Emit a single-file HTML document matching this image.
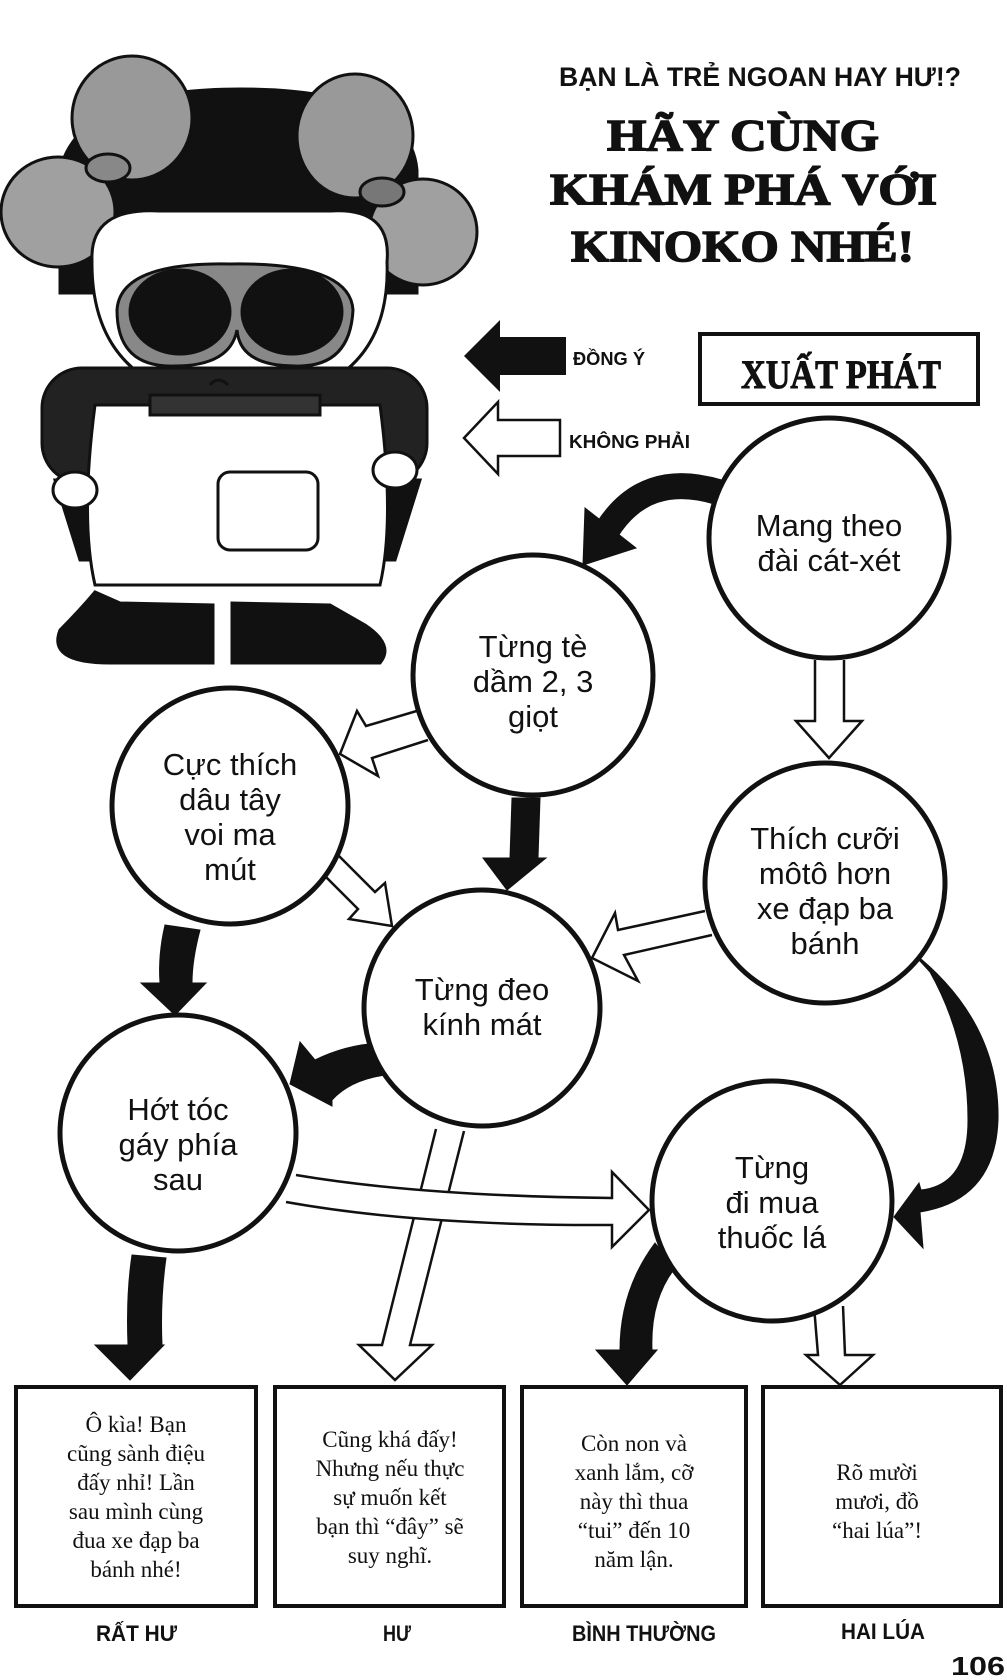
<!DOCTYPE html>
<html><head><meta charset="utf-8"><style>
html,body{margin:0;padding:0;background:#fff}
svg{display:block}
.t{font-family:"Liberation Sans",sans-serif;font-size:31px;fill:#111;text-anchor:middle}
.b{font-family:"Liberation Serif",serif;font-size:23px;fill:#111;text-anchor:middle}
.h{font-family:"Liberation Sans",sans-serif;font-weight:bold;fill:#111}
</style></head><body>
<svg width="1007" height="1680" viewBox="0 0 1007 1680" xmlns="http://www.w3.org/2000/svg">
<!-- Girl -->
<g stroke="#111" stroke-width="3">
<path d="M60,293 L60,170 Q80,89 240,89 Q410,89 417,170 L417,293 Z" fill="#111"/>
<ellipse cx="132" cy="118" rx="60" ry="62" fill="#999"/>
<ellipse cx="58" cy="212" rx="57" ry="55" fill="#a0a0a0"/>
<ellipse cx="355" cy="136" rx="58" ry="62" fill="#999"/>
<ellipse cx="423" cy="232" rx="54" ry="53" fill="#a0a0a0"/>
<ellipse cx="108" cy="168" rx="22" ry="14" fill="#888"/>
<ellipse cx="382" cy="192" rx="22" ry="14" fill="#777"/>
<path d="M92,260 Q90,207 160,211 L330,211 Q392,207 387,262 Q392,395 240,405 Q90,395 92,260 Z" fill="#fff"/>
<rect x="42" y="368" width="385" height="115" rx="40" fill="#222"/>
<path d="M55,480 L80,560 L395,560 L420,480 Z" fill="#111"/>
<path d="M95,405 Q80,520 95,585 L380,585 Q395,520 380,405 Z" fill="#fff"/>
<rect x="218" y="472" width="100" height="78" rx="12" fill="#fff"/>
<rect x="150" y="395" width="170" height="20" fill="#333"/>
<ellipse cx="75" cy="490" rx="22" ry="18" fill="#fff"/>
<ellipse cx="395" cy="470" rx="22" ry="18" fill="#fff"/>
<path d="M117,310 Q120,262 230,264 Q350,262 353,310 Q350,368 295,366 Q240,366 237,330 Q230,366 175,366 Q117,368 117,310 Z" fill="#888"/>
<ellipse cx="180" cy="312" rx="50" ry="42" fill="#111"/>
<ellipse cx="292" cy="312" rx="50" ry="42" fill="#111"/>
<path d="M210,385 Q218,375 228,385" fill="none"/>
<path d="M95,592 Q80,610 60,630 Q47,663 110,663 L213,663 L213,605 L120,603 Z" fill="#111"/>
<path d="M232,603 L232,663 L380,663 Q395,645 365,625 L330,605 Z" fill="#111"/>
</g>
<!-- Titles -->
<text class="h" x="559" y="86" font-size="27" textLength="402" lengthAdjust="spacingAndGlyphs">BẠN LÀ TRẺ NGOAN HAY HƯ!?</text>
<g font-family="Liberation Serif,serif" font-weight="bold" fill="#111" stroke="#111" stroke-width="1.5">
<text x="607" y="150" font-size="44" textLength="272" lengthAdjust="spacingAndGlyphs">HÃY CÙNG</text>
<text x="550" y="204" font-size="44" textLength="387" lengthAdjust="spacingAndGlyphs">KHÁM PHÁ VỚI</text>
<text x="571" y="261" font-size="44" textLength="343" lengthAdjust="spacingAndGlyphs">KINOKO NHÉ!</text>
</g>
<!-- Legend -->
<path d="M464,356 L500,320 L500,337 L566,337 L566,375 L500,375 L500,392 Z" fill="#111"/>
<text class="h" x="573" y="365" font-size="18" textLength="72" lengthAdjust="spacingAndGlyphs">ĐỒNG Ý</text>
<path d="M464,438 L498,402 L498,420 L560,420 L560,456 L498,456 L498,474 Z" fill="#fff" stroke="#111" stroke-width="2.5"/>
<text class="h" x="569" y="448" font-size="18" textLength="121" lengthAdjust="spacingAndGlyphs">KHÔNG PHẢI</text>
<rect x="700" y="334" width="278" height="70" fill="#fff" stroke="#111" stroke-width="4"/>
<text x="741" y="388" font-family="Liberation Serif,serif" font-weight="bold" font-size="40" fill="#111" stroke="#111" stroke-width="1" textLength="200" lengthAdjust="spacingAndGlyphs">XUẤT PHÁT</text>
<!-- Black arrows -->
<path d="M718,492 Q645,470 607,530" fill="none" stroke="#111" stroke-width="26"/>
<g fill="#111" stroke="#111" stroke-width="1">
<path d="M583,565 L585,508 L636,548 Z"/>
<path d="M512,798 L540,798 L538,858 L546,858 L507,890 L483,858 L510,858 Z"/>
<path d="M165,925 L200,930 Q192,960 192,983 L206,983 L175,1015 L141,983 L160,983 Q158,955 165,925 Z"/>
<path d="M380,1043 L385,1075 Q350,1080 332,1100 L332,1106 L290,1084 L300,1042 L315,1060 Q345,1045 380,1043 Z"/>
<path d="M132,1255 L166,1258 Q160,1300 162,1345 L164,1345 L130,1380 L95,1345 L128,1345 Q126,1295 132,1255 Z"/>
<path d="M910,950 Q1000,1020 998,1120 Q995,1200 920,1212 L923,1248 L894,1217 L919,1183 L921,1190 Q968,1185 968,1120 Q968,1040 930,972 Z"/>
<path d="M655,1243 L675,1268 Q650,1300 652,1350 L657,1350 L627,1385 L596,1350 L620,1350 Q620,1290 655,1243 Z"/>
</g>
<!-- White arrows -->
<g fill="#fff" stroke="#111" stroke-width="2.5" stroke-linejoin="miter">
<path d="M815,660 L815,721 L796,721 L829,758 L862,721 L844,721 L844,660"/>
<path d="M420,710 L366,726 L357,711 L340,754 L378,776 L372,758 L428,740"/>
<path d="M321,872 L358,909 L349,919 L392,926 L385,883 L375,892 L338,855"/>
<path d="M705,911 L618,930 L615,913 L592,958 L638,981 L624,955 L712,935"/>
<path d="M436,1129 L382,1345 L359,1345 L395,1380 L432,1345 L410,1345 L464,1131"/>
<path d="M296,1175 Q420,1196 612,1198 L612,1172 L649,1210 L612,1247 L612,1225 Q420,1226 286,1202"/>
<path d="M814,1306 L818,1355 L806,1355 L840,1385 L873,1355 L845,1355 L843,1306"/>
</g>
<!-- Circles -->
<g fill="#fff" stroke="#111" stroke-width="5">
<circle cx="829" cy="538" r="120"/>
<circle cx="533" cy="675" r="120"/>
<circle cx="230" cy="806" r="118"/>
<circle cx="825" cy="883" r="120"/>
<circle cx="482" cy="1008" r="118"/>
<circle cx="178" cy="1133" r="118"/>
<circle cx="772" cy="1201" r="120"/>
</g>
<text class="t" x="829" y="536">Mang theo</text>
<text class="t" x="829" y="571">đài cát-xét</text>
<text class="t" x="533" y="657">Từng tè</text>
<text class="t" x="533" y="692">dầm 2, 3</text>
<text class="t" x="533" y="727">giọt</text>
<text class="t" x="230" y="775">Cực thích</text>
<text class="t" x="230" y="810">dâu tây</text>
<text class="t" x="230" y="845">voi ma</text>
<text class="t" x="230" y="880">mút</text>
<text class="t" x="825" y="849">Thích cưỡi</text>
<text class="t" x="825" y="884">môtô hơn</text>
<text class="t" x="825" y="919">xe đạp ba</text>
<text class="t" x="825" y="954">bánh</text>
<text class="t" x="482" y="1000">Từng đeo</text>
<text class="t" x="482" y="1035">kính mát</text>
<text class="t" x="178" y="1120">Hớt tóc</text>
<text class="t" x="178" y="1155">gáy phía</text>
<text class="t" x="178" y="1190">sau</text>
<text class="t" x="772" y="1178">Từng</text>
<text class="t" x="772" y="1213">đi mua</text>
<text class="t" x="772" y="1248">thuốc lá</text>
<!-- Boxes -->
<g fill="#fff" stroke="#111" stroke-width="4">
<rect x="16" y="1387" width="240" height="219"/>
<rect x="275" y="1387" width="229" height="219"/>
<rect x="522" y="1387" width="224" height="219"/>
<rect x="763" y="1387" width="238" height="219"/>
</g>
<g class="b">
<text class="b" x="136" y="1432">Ô kìa! Bạn</text>
<text class="b" x="136" y="1461">cũng sành điệu</text>
<text class="b" x="136" y="1490">đấy nhỉ! Lần</text>
<text class="b" x="136" y="1519">sau mình cùng</text>
<text class="b" x="136" y="1548">đua xe đạp ba</text>
<text class="b" x="136" y="1577">bánh nhé!</text>
<text class="b" x="390" y="1447">Cũng khá đấy!</text>
<text class="b" x="390" y="1476">Nhưng nếu thực</text>
<text class="b" x="390" y="1505">sự muốn kết</text>
<text class="b" x="390" y="1534">bạn thì “đây” sẽ</text>
<text class="b" x="390" y="1563">suy nghĩ.</text>
<text class="b" x="634" y="1451">Còn non và</text>
<text class="b" x="634" y="1480">xanh lắm, cỡ</text>
<text class="b" x="634" y="1509">này thì thua</text>
<text class="b" x="634" y="1538">“tui” đến 10</text>
<text class="b" x="634" y="1567">năm lận.</text>
<text class="b" x="877" y="1480">Rõ mười</text>
<text class="b" x="877" y="1509">mươi, đồ</text>
<text class="b" x="877" y="1538">“hai lúa”!</text>
</g>
<text class="h" x="96" y="1641" font-size="22" textLength="81" lengthAdjust="spacingAndGlyphs">RẤT HƯ</text>
<text class="h" x="383" y="1641" font-size="22" textLength="28" lengthAdjust="spacingAndGlyphs">HƯ</text>
<text class="h" x="572" y="1641" font-size="22" textLength="144" lengthAdjust="spacingAndGlyphs">BÌNH THƯỜNG</text>
<text class="h" x="841" y="1639" font-size="22" textLength="84" lengthAdjust="spacingAndGlyphs">HAI LÚA</text>
<text class="h" x="951" y="1675" font-size="26" textLength="54" lengthAdjust="spacingAndGlyphs">106</text>
</svg>
</body></html>
